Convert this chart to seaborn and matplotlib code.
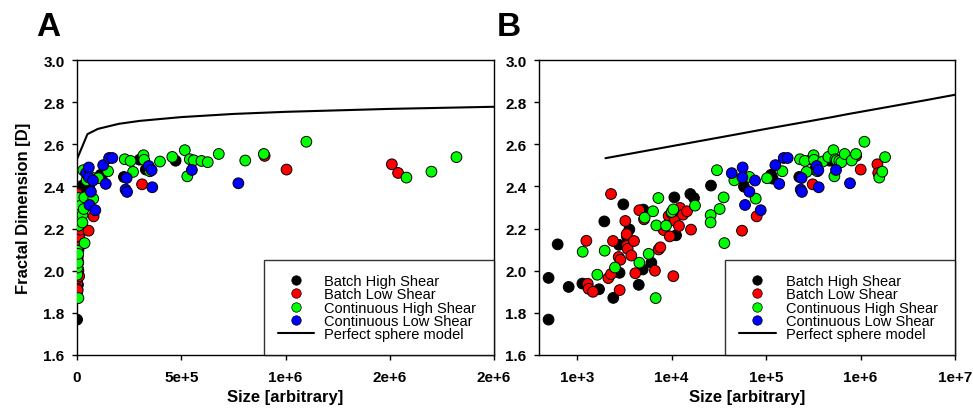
import matplotlib
matplotlib.use("Agg")
import matplotlib.pyplot as plt
from matplotlib.lines import Line2D
from matplotlib.ticker import NullLocator, FixedLocator
import seaborn as sns
import pandas as pd
import numpy as np

# ---------------- data ----------------
bhs_size = [500, 500, 624, 816, 1140, 1710, 1945, 2420, 2780, 2820, 3090, 3580, 3360,
            4500, 4960, 5040, 6120, 10720, 11170, 15820, 17300, 26170, 58500, 113000,
            117800, 225000, 300000, 330000, 473000]
bhs_D = [1.768, 1.966, 2.125, 1.923, 1.939, 1.912, 2.234, 1.871, 2.123, 1.990, 2.315, 2.196,
         2.164, 1.933, 2.006, 2.290, 2.038, 2.348, 2.168, 2.364, 2.345, 2.404, 2.399, 2.455,
         2.437, 2.445, 2.527, 2.480, 2.522]

bls_size = [1256, 1298, 1327, 1475, 2146, 2290, 2290, 2405, 2760, 2877, 2827, 3245, 3356,
            3356, 3436, 3757, 4009, 4140, 4566, 5120, 6680, 7310, 7620, 8260, 9330, 9570,
            10050, 10450, 10800, 12000, 12300, 13240, 14590, 16080, 55700, 79600, 312000,
            900000, 1005000, 1510000, 1540000]
bls_D = [2.142, 1.938, 1.914, 1.900, 1.965, 1.984, 2.364, 2.141, 2.065, 2.052, 1.908, 2.236,
         2.174, 2.118, 2.104, 2.072, 2.141, 1.988, 2.287, 2.244, 2.000, 2.101, 2.111, 2.193,
         2.260, 2.163, 2.271, 1.974, 2.237, 2.212, 2.298, 2.266, 2.282, 2.195, 2.190, 2.258,
         2.410, 2.545, 2.480, 2.505, 2.464]

chs_size = [1148, 1640, 1962, 2524, 4566, 5200, 5730, 6370, 6800, 6910, 7260, 8750, 10050,
            10450, 17730, 25950, 25950, 30270, 32330, 35650, 36250, 46240, 66700, 77800,
            102600, 149000, 229000, 257000, 269000, 319000, 322000, 350000, 398000, 457000,
            517000, 529000, 541000, 560000, 597000, 627000, 680000, 807000, 896000, 1100000,
            1580000, 1700000, 1820000]
chs_D = [2.090, 1.981, 2.095, 2.015, 2.038, 2.252, 2.080, 2.282, 1.870, 2.215, 2.345, 2.214,
         2.279, 2.291, 2.309, 2.264, 2.229, 2.477, 2.293, 2.348, 2.131, 2.429, 2.445, 2.342,
         2.439, 2.472, 2.529, 2.521, 2.469, 2.548, 2.526, 2.472, 2.518, 2.540, 2.572, 2.448,
         2.529, 2.524, 2.521, 2.515, 2.554, 2.523, 2.554, 2.612, 2.442, 2.470, 2.539]

cls_size = [43400, 56600, 56200, 76500, 66700, 60000, 87900, 125600, 154000, 169500, 138000,
            344000, 358000, 238000, 233000, 240000, 361000, 551000, 774000]
cls_D = [2.463, 2.490, 2.443, 2.428, 2.375, 2.312, 2.287, 2.501, 2.535, 2.535, 2.412, 2.497,
         2.477, 2.440, 2.385, 2.374, 2.396, 2.478, 2.415]

sphere_size = [2e3, 5e4, 1e5, 2e5, 3e5, 5e5, 7.5e5, 1e6, 1.5e6, 2e6, 5e6, 1e7]
sphere_D = [2.534, 2.648, 2.673, 2.697, 2.711, 2.729, 2.744, 2.754, 2.768, 2.778, 2.810, 2.835]

groups = ["Batch High Shear", "Batch Low Shear", "Continuous High Shear", "Continuous Low Shear"]
colors = ["#000000", "#ff0000", "#00ff00", "#0000ff"]

ticksA = [0, 5e5, 1e6, 1.5e6, 2e6]
ticklabelsA = ["0", "5e+5", "1e+6", "2e+6", "2e+6"]
ticksB = [1e3, 1e4, 1e5, 1e6, 1e7]
ticklabelsB = ["1e+3", "1e+4", "1e+5", "1e+6", "1e+7"]
yticks = [1.6, 1.8, 2.0, 2.2, 2.4, 2.6, 2.8, 3.0]
yticklabels = ["1.6", "1.8", "2.0", "2.2", "2.4", "2.6", "2.8", "3.0"]

# ---------------- build table ----------------
frames = []
for g, s, d in zip(groups, [bhs_size, bls_size, chs_size, cls_size], [bhs_D, bls_D, chs_D, cls_D]):
    frames.append(pd.DataFrame({"size": s, "D": d, "group": g}))
df = pd.concat(frames, ignore_index=True)
sphere = pd.DataFrame({"size": sphere_size, "D": sphere_D})

sns.set_style("ticks")
plt.rcParams["font.family"] = ["Liberation Sans", "DejaVu Sans"]
plt.rcParams["text.color"] = "black"
plt.rcParams["axes.labelcolor"] = "black"
plt.rcParams["xtick.color"] = "black"
plt.rcParams["ytick.color"] = "black"

fig = plt.figure(figsize=(9.73, 4.10), dpi=100)
axA = fig.add_axes([77/973, 1-356/410, 417/973, 295/410])
axB = fig.add_axes([539/973, 1-356/410, 416/973, 295/410])

palette = dict(zip(groups, colors))

for ax, logx in [(axA, False), (axB, True)]:
    if logx:
        ax.set_xscale("log")
    sns.lineplot(data=sphere, x="size", y="D", color="black", lw=1.5, ax=ax, sort=True)
    sns.scatterplot(data=df, x="size", y="D", hue="group", hue_order=groups, palette=palette,
                    s=60, edgecolor="black", linewidth=0.7, legend=False, ax=ax, zorder=3)
    ax.set_ylim(1.6, 3.0)
    ax.set_yticks(yticks)
    ax.set_yticklabels(yticklabels)
    for sp in ax.spines.values():
        sp.set_visible(True)
        sp.set_color("black")
        sp.set_linewidth(1.0)
    ax.tick_params(axis="both", direction="out", length=3.5, width=1, colors="black",
                   labelsize=11)
    ax.tick_params(axis="x", pad=7)
    ax.tick_params(axis="y", pad=5.5)
    for lab in ax.get_xticklabels() + ax.get_yticklabels():
        lab.set_fontweight("bold")
    ax.set_xlabel("Size [arbitrary]", fontsize=12, fontweight="bold", labelpad=4, color="black")
    ax.set_ylabel("")

    handles = [Line2D([0], [0], marker="o", linestyle="none", markersize=6.8,
                      markerfacecolor=c, markeredgecolor="black", markeredgewidth=0.5)
               for c in colors]
    handles.append(Line2D([0], [0], color="black", lw=1.5))
    labels = groups + ["Perfect sphere model"]
    x0 = 0.448
    leg = ax.legend(handles, labels, loc="lower left", bbox_to_anchor=(x0, 0, 1 - x0, 0.3),
                    mode="expand", borderaxespad=0, frameon=True, fancybox=False,
                    fontsize=10.5, labelspacing=-0.05, handlelength=2.5, handletextpad=0.7,
                    borderpad=0.95, labelcolor="black")
    leg.get_frame().set_edgecolor("black")
    leg.get_frame().set_linewidth(1.0)

axA.set_xlim(0, 2e6)
axA.xaxis.set_major_locator(FixedLocator(ticksA))
axA.set_xticklabels(ticklabelsA)
for lab in axA.get_xticklabels():
    lab.set_fontweight("bold")
axA.set_ylabel("Fractal Dimension [D]", fontsize=12, fontweight="bold", labelpad=9, color="black")

axB.set_xlim(396, 1e7)
axB.xaxis.set_major_locator(FixedLocator(ticksB))
axB.xaxis.set_minor_locator(NullLocator())
axB.set_xticklabels(ticklabelsB)
for lab in axB.get_xticklabels():
    lab.set_fontweight("bold")

fig.text(36/973, 1-36/410, "A", fontsize=24, fontweight="bold", va="baseline", ha="left", color="black")
fig.text(497/973, 1-36/410, "B", fontsize=24, fontweight="bold", va="baseline", ha="left", color="black")

fig.savefig("out.png", dpi=100)
